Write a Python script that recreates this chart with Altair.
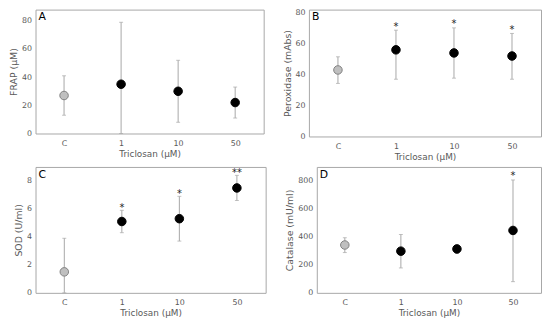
import altair as alt
import pandas as pd

categories = ["C", "1", "10", "50"]
is_control = [True, False, False, False]

frap_mean = [27, 35, 30, 22]
frap_low = [13, 0, 8, 11]
frap_high = [41, 79, 52, 33]
frap_stars = ["", "", "", ""]

perox_mean = [43, 56, 54, 52]
perox_low = [34.3, 37, 37.7, 37]
perox_high = [51.5, 68.7, 70.2, 66.6]
perox_stars = ["", "*", "*", "*"]

sod_mean = [1.5, 5.1, 5.3, 7.5]
sod_low = [0, 4.3, 3.7, 6.6]
sod_high = [3.9, 5.9, 6.9, 8.4]
sod_stars = ["", "*", "*", "**"]

cat_mean = [342, 298, 314, 446]
cat_low = [288, 178, 281, 80]
cat_high = [394, 417, 342, 807]
cat_stars = ["", "", "", "*"]

FONT = "DejaVu Sans"
GREY = "#595959"


def panel(letter, ytitle, mean, low, high, stars, ymax, yticks, star_gap, w, h):
    df = pd.DataFrame({
        "cat": categories,
        "mean": mean,
        "low": low,
        "high": high,
        "star": stars,
        "ctrl": ["Control" if c else "Treated" for c in is_control],
    })
    df["stary"] = df["high"] + star_gap
    x = alt.X("cat:N", sort=categories,
              scale=alt.Scale(type="point", domain=categories, padding=0.5),
              axis=alt.Axis(title="Triclosan (μM)", labelAngle=0, ticks=False,
                            domain=False, labelPadding=6, titlePadding=2,
                            labelFontSize=8, titleFontSize=9))
    yscale = alt.Scale(domain=[0, ymax], nice=False, zero=True)
    yaxis = alt.Axis(title=ytitle, values=yticks, grid=False, ticks=False,
                     domain=False, labelPadding=4, titlePadding=3,
                     labelOverlap=False, labelFontSize=8, titleFontSize=9.5)

    def Y(field):
        return alt.Y(field, scale=yscale, axis=yaxis)

    base = alt.Chart(df)
    bars = base.mark_rule(color="#a6a6a6", strokeWidth=1).encode(
        x=x, y=Y("low:Q"), y2="high:Q")
    cap_lo = base.mark_tick(color="#a6a6a6", size=4, thickness=1).encode(
        x=x, y=Y("low:Q"))
    cap_hi = base.mark_tick(color="#a6a6a6", size=4, thickness=1).encode(
        x=x, y=Y("high:Q"))
    pts = base.mark_point(filled=True, size=75, opacity=1, strokeWidth=1).encode(
        x=x, y=Y("mean:Q"),
        fill=alt.Fill("ctrl:N", scale=alt.Scale(domain=["Control", "Treated"],
                                                range=["#bfbfbf", "#000000"]),
                      legend=None),
        stroke=alt.Stroke("ctrl:N", scale=alt.Scale(domain=["Control", "Treated"],
                                                    range=["#7f7f7f", "#000000"]),
                          legend=None))
    st = base.mark_text(font=FONT, fontSize=10, color="#222222", baseline="middle",
                        dy=2).encode(
        x=x, y=Y("stary:Q"), text="star:N")
    lab = alt.Chart(pd.DataFrame({"t": [letter]})).mark_text(
        font=FONT, fontSize=11, color="#000000", align="left", baseline="top"
    ).encode(x=alt.value(3), y=alt.value(2), text="t:N")
    return alt.layer(bars, cap_lo, cap_hi, pts, st, lab).properties(width=w, height=h)


A = panel("A", "FRAP (μM)", frap_mean, frap_low, frap_high, frap_stars,
          88, [0, 20, 40, 60, 80], 0, 232, 126)
B = panel("B", "Peroxidase (mAbs)", perox_mean, perox_low, perox_high, perox_stars,
          82, [0, 20, 40, 60, 80], 3.5, 236, 129)
C = panel("C", "SOD (U/ml)", sod_mean, sod_low, sod_high, sod_stars,
          9, [0, 2, 4, 6, 8], 0.3, 234, 128)
D = panel("D", "Catalase (mU/ml)", cat_mean, cat_low, cat_high, cat_stars,
          900, [0, 200, 400, 600, 800], 45, 228, 128)

row1 = alt.hconcat(A, B, spacing=17)
row2 = alt.hconcat(C, D, spacing=18)

chart = alt.vconcat(row1, row2, spacing=4).properties(
    padding={"left": 0, "top": -3, "right": 0, "bottom": 0}
).configure_view(
    stroke="#a6a6a6", strokeWidth=1
).configure_axis(
    labelFont=FONT, titleFont=FONT, labelColor=GREY, titleColor=GREY,
    titleFontWeight="normal"
).resolve_scale(fill="independent", stroke="independent")

chart.save("out.html", embed_options={"renderer": "svg", "actions": False})
